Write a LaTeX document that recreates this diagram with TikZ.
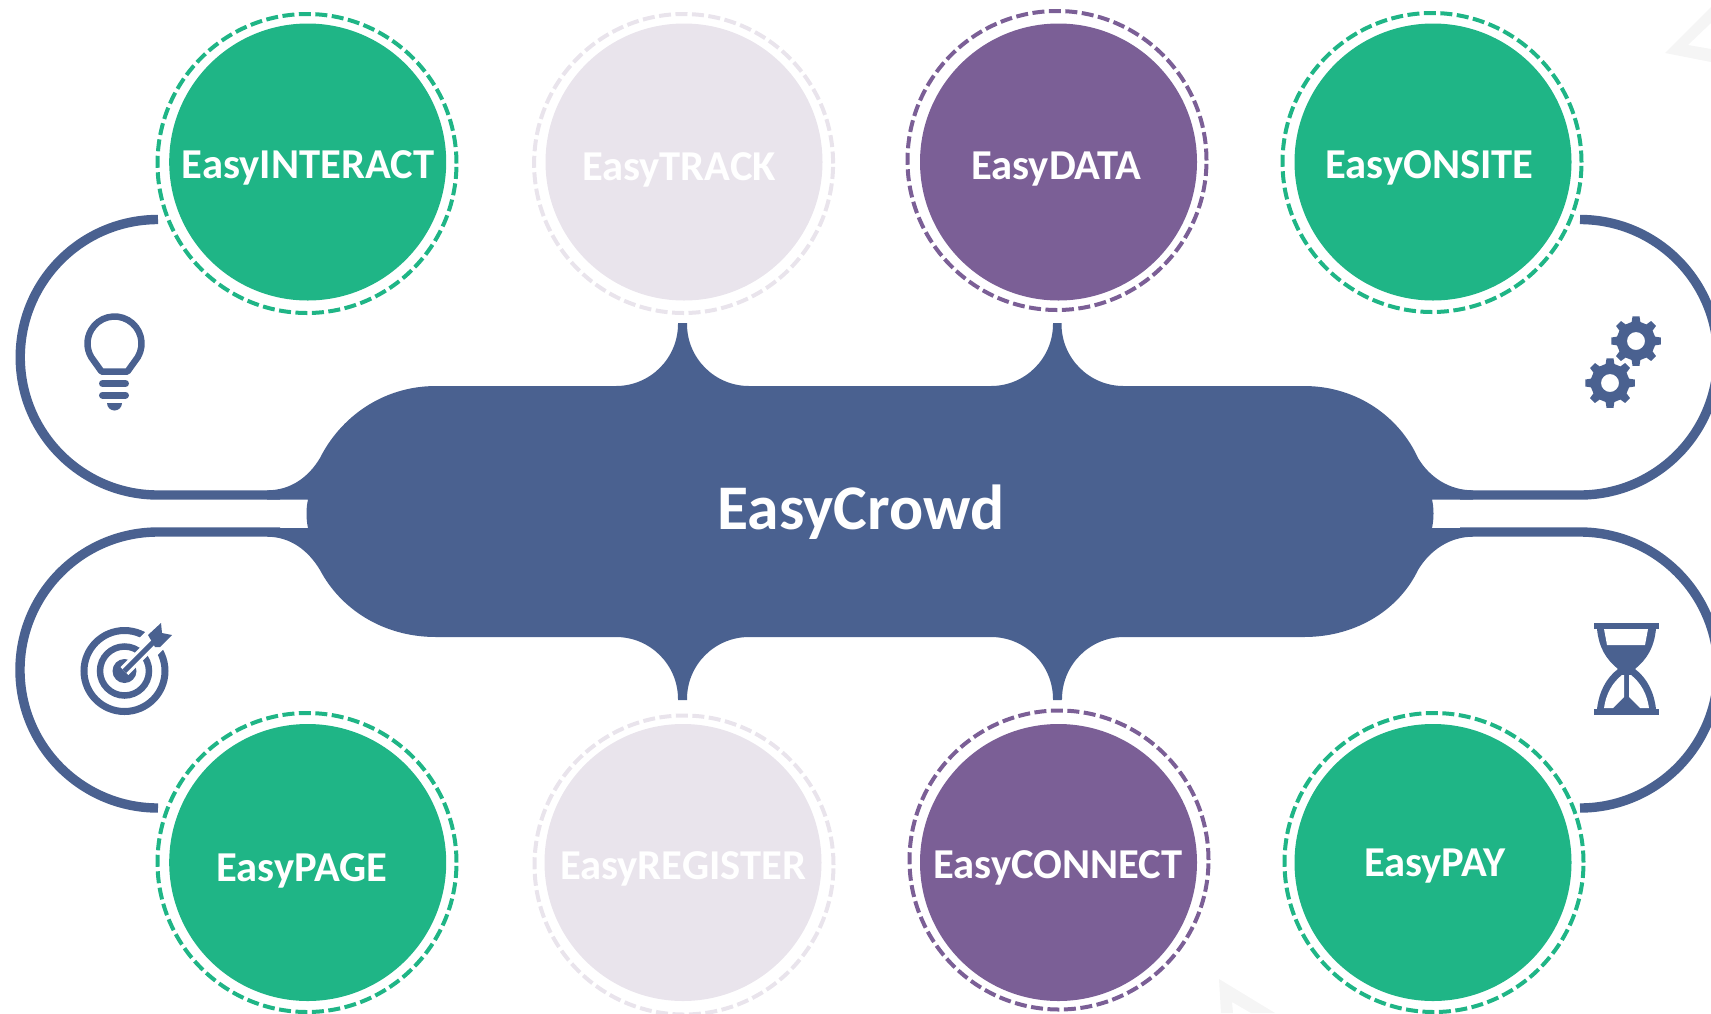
\documentclass[tikz,border=0pt]{standalone}
\usepackage{fontspec}
\setmainfont{Carlito}
\definecolor{easyblue}{HTML}{4A6190}
\definecolor{easygreen}{HTML}{1FB586}
\definecolor{easypurple}{HTML}{7B5F96}
\definecolor{easylight}{HTML}{E9E4EC}
\definecolor{easyghost}{HTML}{F5F5F5}
\tikzset{
  disc/.style={circle,minimum size=277pt,inner sep=0pt},
  ring/.style={circle,minimum size=299pt,inner sep=0pt,line width=4pt,dash pattern=on 12pt off 4.5pt},
  caption/.style={text=white,font=\bfseries\fontsize{42.6}{43}\selectfont,inner sep=0pt},
  wire/.style={draw=easyblue,line width=9.4pt}
}
\newcommand{\gearicon}[3]{
  \fill[easyblue,even odd rule,shift={(#1,#2)},rotate=#3] (-13:19.5)
    \foreach \a in {0,45,...,315} {-- (\a-13:19.5) -- (\a-8:25) -- (\a+8:25) -- (\a+13:19.5)} -- cycle
    (0,0) circle (9);
}
\begin{document}
\begin{tikzpicture}[x=1pt,y=-1pt]
\useasboundingbox (0,0) rectangle (1711,1013);
% faint triangles at the page edges
\fill[easyghost] (1665,53) -- (1711,7) -- (1711,23) -- (1688,45) -- (1711,49) -- (1711,62) -- cycle;
\fill[easyghost] (1219,979) -- (1275,1013) -- (1251,1013) -- (1232,1002) -- (1233,1013) -- (1221,1013) -- cycle;
% wires
\draw[wire] (158,219.5) arc[start angle=-90,end angle=-270,radius=137.75] -- (280,495);
\draw[wire] (158,808) arc[start angle=90,end angle=270,radius=138] -- (280,532);
\draw[wire] (1580,219.5) arc[start angle=-90,end angle=90,radius=137.75] -- (1460,495);
\draw[wire] (1580,808) arc[start angle=90,end angle=-90,radius=138] -- (1460,532);
% hub
\fill[easyblue] (436,386) -- (616,386) arc[start angle=90,end angle=0,radius=62] -- (678,323) -- (687,323) -- (687,324)
  arc[start angle=180,end angle=90,radius=62] -- (991,386) arc[start angle=90,end angle=0,radius=62] -- (1053,323) -- (1061.5,323) -- (1061.5,324)
  arc[start angle=180,end angle=90,radius=62] -- (1304,386)
  .. controls (1358,386) and (1400,418) .. (1418,458) .. controls (1430,478) and (1450,490.3) .. (1473,490.3) -- (1473,499.5) -- (1432,499.5)
  .. controls (1434,508) and (1434,519) .. (1432,528) -- (1473,528) -- (1473,536.7)
  .. controls (1450,536.7) and (1430,550) .. (1418,570) .. controls (1400,608) and (1358,637) .. (1304,637)
  -- (1124,637) arc[start angle=-90,end angle=-180,radius=62] -- (1061.5,700) -- (1053,700) -- (1053,699)
  arc[start angle=0,end angle=-90,radius=62] -- (749,637) arc[start angle=-90,end angle=-180,radius=62] -- (687,700) -- (678,700) -- (678,699)
  arc[start angle=0,end angle=-90,radius=62] -- (436,637)
  .. controls (382,637) and (340,608) .. (320,570) .. controls (308,550) and (290,536.7) .. (267,536.7) -- (267,528) -- (308,528)
  .. controls (306,519) and (306,508) .. (308,499.5) -- (267,499.5) -- (267,490.3)
  .. controls (290,490.3) and (308,478) .. (320,458) .. controls (340,418) and (382,386) .. (436,386) -- cycle;
\node[caption,font=\bfseries\fontsize{63.6}{64}\selectfont] (hub) at (861,512.5) {EasyCrowd};
% circles
\foreach \n/\xd/\yd/\xr/\yr/\xt/\yt/\c/\t in {
  interact/307.7/162/307/163.5/308/167.5/easygreen/EasyINTERACT,
  track/684/162/683.6/163.5/679/169.5/easylight/EasyTRACK,
  data/1058.5/162/1057/160.5/1056/169.5/easypurple/EasyDATA,
  onsite/1433/162/1432/162.5/1429.5/167.5/easygreen/EasyONSITE,
  page/307.7/862.5/307/862.5/302/870.5/easygreen/EasyPAGE,
  register/683/862.5/684/865/683/868.5/easylight/EasyREGISTER,
  connect/1058.5/862.5/1059/860/1058/867.5/easypurple/EasyCONNECT,
  pay/1433/862.5/1434/862.5/1435/866.5/easygreen/EasyPAY} {
  \node[ring,draw=\c] (\n ring) at (\xr,\yr) {};
  \node[disc,fill=\c] (\n) at (\xd,\yd) {};
  \node[caption] (\n text) at (\xt,\yt) {\t};
}
% bulb
\draw[easyblue,line width=6.5pt,line join=round] (101.5,371.5) -- (127.5,371.5) -- (137.9,357) arc[start angle=30,end angle=-210,radius=27] -- cycle;
\draw[easyblue,line width=7pt,line cap=round] (102.5,383.5) -- (125.5,383.5);
\draw[easyblue,line width=7pt,line cap=round] (102.5,395) -- (125.5,395);
\fill[easyblue] (107,403) -- (122,403) arc[start angle=0,end angle=180,radius=7.5] -- cycle;
% gears
\gearicon{1636}{341}{0}
\gearicon{1610}{383}{0}
% target
\draw[easyblue,line width=7pt] (124.5,671) circle (40.5);
\draw[easyblue,line width=6.5pt] (124.5,671) circle (24.5);
\fill[easyblue] (124.5,671) circle (12);
\draw[white,line width=25pt] (148,647) -- (160,635);
\draw[white,line width=11pt] (124.5,671) -- (150,645.5);
\draw[easyblue,line width=5pt] (124.5,671) -- (155,640.5);
\fill[easyblue] (148,635) -- (161,623) -- (162,633) -- (172,635) -- (160,647) -- (155,647) -- cycle;
% hourglass
\fill[easyblue] (1594,623) rectangle (1659,629);
\fill[easyblue] (1594,709) rectangle (1659,715);
\fill[easyblue] (1597,629) .. controls (1599,648) and (1606,659) .. (1618,669) .. controls (1606,678) and (1599,692) .. (1597,709)
  -- (1656,709) .. controls (1654,692) and (1647,678) .. (1635,669) .. controls (1647,659) and (1654,648) .. (1656,629) -- cycle;
\fill[white] (1604,629) -- (1648,629) -- (1645,645) -- (1607,645) -- cycle;
\fill[white] (1604,708) .. controls (1606,694) and (1612,683) .. (1622,675) -- (1624,675) -- (1624,697) -- (1613,708) -- cycle;
\fill[white] (1649,708) .. controls (1647,694) and (1641,683) .. (1631,675) -- (1629,675) -- (1629,697) -- (1640,708) -- cycle;
\end{tikzpicture}
\end{document}
